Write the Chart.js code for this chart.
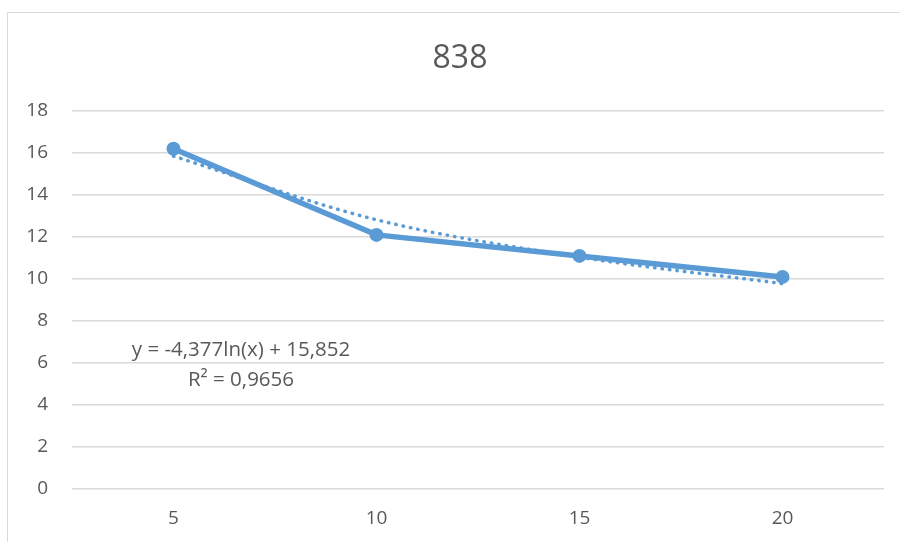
<!DOCTYPE html>
<html>
<head>
<meta charset="utf-8">
<script src="https://cdn.jsdelivr.net/npm/chart.js@4/dist/chart.umd.min.js"></script>
<style>
  html, body { margin: 0; padding: 0; background: #ffffff; }
  #wrap { position: relative; width: 900px; height: 542px; }
</style>
</head>
<body>
<div id="wrap"><canvas id="c" width="900" height="542"></canvas></div>
<script>
// Category labels on the horizontal axis
const categories = ['5', '10', '15', '20'];
// Measured series
const seriesValues = [16.2, 12.1, 11.1, 10.1];
// Logarithmic trend evaluated at each category
const trendValues = [15.85, 12.82, 11.04, 9.78];
// Vertical axis range and step
const yTicks = [0, 2, 4, 6, 8, 10, 12, 14, 16, 18];
// Trendline equation text
const trendLabel = ['y = -4,377ln(x) + 15,852', 'R\u00B2 = 0,9656'];
const chartTitle = '838';

const FONT = "'Open Sans', 'Liberation Sans', sans-serif";
const TEXT = '#595959';
const GRID = '#d9d9d9';
const BLUE = '#5b9bd5';

// Outer frame of the chart object and its centred title
const framePlugin = {
  id: 'frame',
  beforeDraw(chart) {
    const ctx = chart.ctx;
    ctx.save();
    ctx.strokeStyle = GRID;
    ctx.lineWidth = 1;
    ctx.beginPath();
    ctx.moveTo(7.5, 542);
    ctx.lineTo(7.5, 12.5);
    ctx.lineTo(900, 12.5);
    ctx.stroke();
    ctx.fillStyle = TEXT;
    ctx.font = '32px ' + FONT;
    ctx.textAlign = 'center';
    ctx.textBaseline = 'middle';
    ctx.fillText(chartTitle, 460, 59);
    ctx.restore();
  }
};

// Trendline equation and R² box
const equationPlugin = {
  id: 'equation',
  afterDatasetsDraw(chart) {
    const ctx = chart.ctx;
    ctx.save();
    ctx.fillStyle = TEXT;
    ctx.font = '20.5px ' + FONT;
    ctx.textAlign = 'center';
    ctx.textBaseline = 'middle';
    ctx.fillText(trendLabel[0], 241, 350);
    ctx.fillText(trendLabel[1], 241, 380);
    ctx.restore();
  }
};

new Chart(document.getElementById('c'), {
  type: 'line',
  data: {
    labels: categories,
    datasets: [
      {
        label: 'trend',
        data: trendValues,
        borderColor: BLUE,
        borderWidth: 3.5,
        borderDash: [0.5, 7],
        borderCapStyle: 'round',
        pointRadius: 0,
        cubicInterpolationMode: 'monotone',
        fill: false,
        order: 0
      },
      {
        label: chartTitle,
        data: seriesValues,
        borderColor: BLUE,
        backgroundColor: BLUE,
        borderWidth: 5.5,
        pointRadius: 7,
        pointBorderWidth: 0,
        pointBackgroundColor: BLUE,
        tension: 0,
        fill: false,
        order: 1
      }
    ]
  },
  options: {
    responsive: false,
    animation: false,
    devicePixelRatio: 1,
    layout: { padding: { left: 0, right: 16, top: 111, bottom: 0 } },
    plugins: {
      legend: { display: false },
      tooltip: { enabled: false },
      title: { display: false }
    },
    scales: {
      x: {
        offset: true,
        grid: { display: false, drawTicks: false },
        border: { display: false },
        ticks: { color: TEXT, font: { family: FONT, size: 19 }, padding: 18 },
        afterFit(s) { s.height = 53; }
      },
      y: {
        min: yTicks[0],
        max: yTicks[yTicks.length - 1],
        afterBuildTicks(s) { s.ticks = yTicks.map(v => ({ value: v })); },
        grid: { color: GRID, lineWidth: 1.5, drawTicks: false },
        border: { display: false },
        ticks: { color: TEXT, font: { family: FONT, size: 19 }, padding: 24 },
        afterFit(s) { s.width = 72; }
      }
    }
  },
  plugins: [framePlugin, equationPlugin]
});
</script>
</body>
</html>
